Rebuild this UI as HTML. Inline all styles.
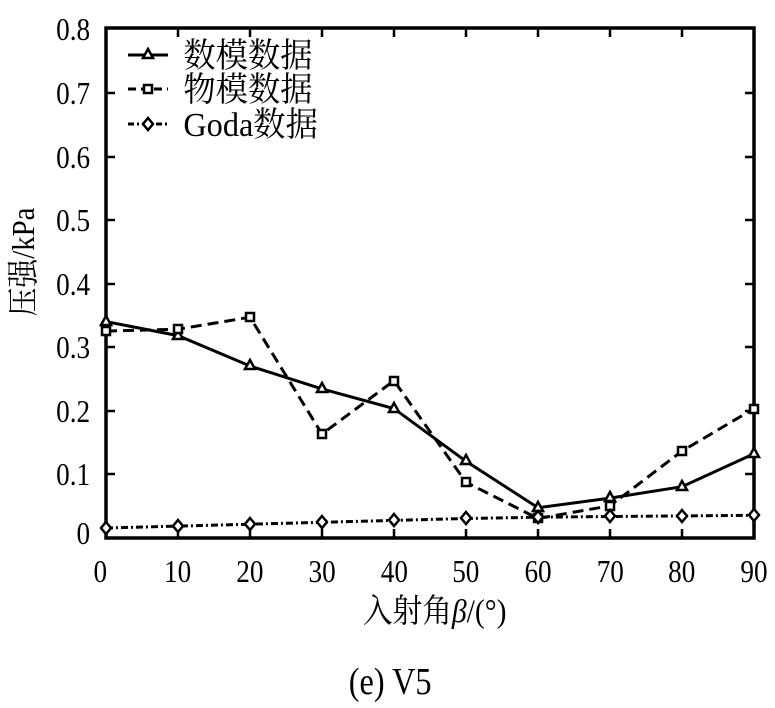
<!DOCTYPE html>
<html><head><meta charset="utf-8"><style>body{margin:0;background:#fff}svg{display:block}</style></head>
<body>
<svg width="775" height="708" viewBox="0 0 775 708" xmlns="http://www.w3.org/2000/svg" font-family="'Liberation Serif','Noto Serif CJK SC',serif">
<rect width="775" height="708" fill="#fff"/>
<g stroke="#000" stroke-width="3.5" fill="none">
<rect x="106" y="28" width="648" height="510"/>
</g>
<g stroke="#000" stroke-width="2.5">
<path d="M178 538v-9M250 538v-9M322 538v-9M394 538v-9M466 538v-9M538 538v-9M610 538v-9M682 538v-9M178 28v9M250 28v9M322 28v9M394 28v9M466 28v9M538 28v9M610 28v9M682 28v9"/>
<path d="M106 474h9M106 411h9M106 347h9M106 284h9M106 220h9M106 157h9M106 93h9M754 474h-9M754 411h-9M754 347h-9M754 284h-9M754 220h-9M754 157h-9M754 93h-9"/>
</g>
<g font-size="32" text-anchor="end" transform="scale(0.85,1)">
<text x="106" y="544">0</text><text x="106" y="485">0.1</text><text x="106" y="422">0.2</text><text x="106" y="358">0.3</text><text x="106" y="295">0.4</text><text x="106" y="231">0.5</text><text x="106" y="168">0.6</text><text x="106" y="104">0.7</text><text x="106" y="40">0.8</text>
</g>
<g font-size="32" text-anchor="middle" transform="scale(0.85,1)">
<text x="118" y="582">0</text><text x="209" y="582">10</text><text x="294" y="582">20</text><text x="379" y="582">30</text><text x="464" y="582">40</text><text x="548" y="582">50</text><text x="633" y="582">60</text><text x="718" y="582">70</text><text x="802" y="582">80</text><text x="887" y="582">90</text>
</g>
<g transform="scale(0.9,1)"><text x="483" y="622" font-size="33" text-anchor="middle">入射角<tspan font-style="italic">β</tspan>/(°)</text></g>
<text transform="translate(34,262) rotate(-90) scale(0.9,1)" font-size="32" text-anchor="middle">压强/kPa</text>
<g transform="scale(0.85,1)"><text x="459" y="694" font-size="38" text-anchor="middle">(e) V5</text></g>
<polyline fill="none" stroke="#000" stroke-width="3" points="106,321.6 178,335.6 250,366 322,388.9 394,408.6 466,461.3 538,507.7 610,498.1 682,486.7 754,453.7"/>
<polyline fill="none" stroke="#000" stroke-width="3" stroke-dasharray="11,6" points="106,331.1 178,329.2 250,317.2 322,434 394,380.7 466,482.3 538,518.5 610,505.8 682,451.1 754,408.6"/>
<polyline fill="none" stroke="#000" stroke-width="3" stroke-dasharray="7,3,2,3" points="106,528 178,526.1 250,524.2 322,522.3 394,520.4 466,518.5 538,517.2 610,516.5 682,515.9 754,515.3"/>
<g fill="#fff" stroke="#000" stroke-width="2.5">
<path d="M106 316l5 9h-10zM178 330l5 9h-10zM250 360l5 9h-10zM322 383l5 9h-10zM394 403l5 9h-10zM466 455l5 9h-10zM538 502l5 9h-10zM610 492l5 9h-10zM682 481l5 9h-10zM754 448l5 9h-10z"/>
<rect x="102" y="327" width="8" height="8"/><rect x="174" y="325" width="8" height="8"/><rect x="246" y="313" width="8" height="8"/><rect x="318" y="430" width="8" height="8"/><rect x="390" y="377" width="8" height="8"/><rect x="462" y="478" width="8" height="8"/><rect x="534" y="514" width="8" height="8"/><rect x="606" y="502" width="8" height="8"/><rect x="678" y="447" width="8" height="8"/><rect x="750" y="405" width="8" height="8"/>
<path d="M106 522l5 6-5 6-5-6zM178 520l5 6-5 6-5-6zM250 518l5 6-5 6-5-6zM322 516l5 6-5 6-5-6zM394 514l5 6-5 6-5-6zM466 512l5 6-5 6-5-6zM538 511l5 6-5 6-5-6zM610 510l5 6-5 6-5-6zM682 510l5 6-5 6-5-6zM754 509l5 6-5 6-5-6z"/>
</g>
<g stroke="#000" stroke-width="3" fill="none">
<path d="M128 55h40"/><path d="M128 89h40" stroke-dasharray="8,5"/><path d="M128 124h40" stroke-dasharray="6,3,2,3"/>
</g>
<g fill="#fff" stroke="#000" stroke-width="2.5">
<path d="M148 49l5 9h-10z"/><rect x="144" y="85" width="8" height="8"/><path d="M148 118l5 6-5 6-5-6z"/>
</g>
<g font-size="34" transform="scale(0.95,1)">
<text x="193" y="67">数模数据</text><text x="193" y="101">物模数据</text><text x="193" y="136">Goda数据</text>
</g>
</svg>
</body></html>
